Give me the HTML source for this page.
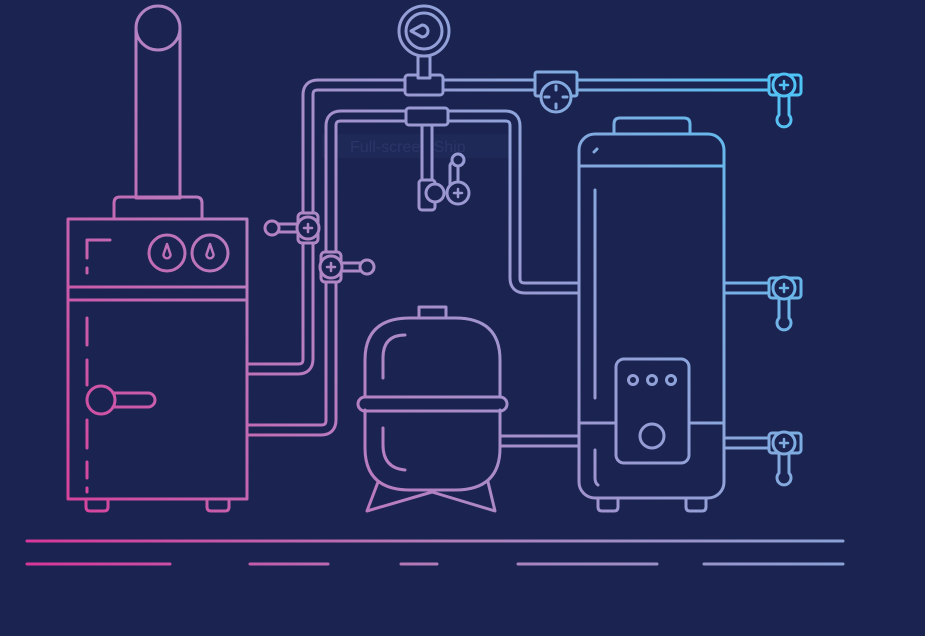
<!DOCTYPE html>
<html><head><meta charset="utf-8"><style>
html,body{margin:0;padding:0;background:#1b2350;}
svg{display:block}
</style></head><body>
<svg width="925" height="636" viewBox="0 0 925 636" xmlns="http://www.w3.org/2000/svg">
<defs>
<linearGradient id="g" gradientUnits="userSpaceOnUse" x1="60" y1="520" x2="800" y2="80">
<stop offset="0" stop-color="#d8409a"/>
<stop offset="0.35" stop-color="#b77fc0"/>
<stop offset="0.7" stop-color="#8ea4da"/>
<stop offset="1" stop-color="#4ec4f6"/>
</linearGradient>
<linearGradient id="h" gradientUnits="userSpaceOnUse" x1="27" y1="0" x2="843" y2="0">
<stop offset="0" stop-color="#d8379a"/>
<stop offset="0.5" stop-color="#b27cb8"/>
<stop offset="1" stop-color="#8aa2d6"/>
</linearGradient>
</defs>
<rect width="925" height="636" fill="#1b2350"/>
<rect x="322" y="134" width="188" height="24" fill="#1f2958"/>
<text x="350" y="152" font-family="Liberation Sans, sans-serif" font-size="16" fill="#2b3568">Full-screen Ship</text>

<g fill="none" stroke="url(#g)" stroke-width="3" stroke-linecap="round" stroke-linejoin="round">
<!-- pipes -->
<g stroke-width="13" stroke-linecap="butt">
<path d="M246,369 H298 Q308,369 308,359 V95 Q308,85 318,85 H780"/>
<path d="M246,430 H321 Q331,430 331,420 V126 Q331,116 341,116 H505 Q515,116 515,126 V278 Q515,288 525,288 H580"/>
<path d="M500,441 H580"/>
<path d="M724,288 H778 M724,443 H778"/>
<path d="M427,116 V205"/>
</g>
<g stroke="#1b2350" stroke-width="7" stroke-linecap="butt">
<path d="M246,369 H298 Q308,369 308,359 V95 Q308,85 318,85 H780"/>
<path d="M246,430 H321 Q331,430 331,420 V126 Q331,116 341,116 H505 Q515,116 515,126 V278 Q515,288 525,288 H580"/>
<path d="M500,441 H580"/>
<path d="M724,288 H778 M724,443 H778"/>
<path d="M427,116 V205"/>
</g>
<!-- fittings -->
<rect x="405" y="75" width="38" height="20" rx="3" fill="#1b2350"/>
<rect x="418" y="56" width="12" height="22" fill="#1b2350"/>
<rect x="406" y="108" width="42" height="17" rx="3" fill="#1b2350"/>
<rect x="419" y="180" width="16" height="30" rx="3" fill="#1b2350"/>
<!-- gauge top -->
<circle cx="424" cy="31" r="25" fill="#1b2350"/>
<circle cx="424" cy="31" r="18"/>
<path d="M411,31 L422,25 A6,6 0 1 1 422,37 Z"/>
<!-- thermometer fitting -->
<rect x="535" y="72" width="42" height="24" rx="2" fill="#1b2350"/>
<circle cx="556" cy="97" r="15" fill="#1b2350"/>
<path d="M556,86 v4 M556,104 v4 M545,97 h4 M563,97 h4"/>
<!-- small valve branch -->
<circle cx="435" cy="193" r="9" fill="#1b2350"/>
<path d="M454,185 V166" stroke-width="11"/>
<path d="M454,185 V166" stroke="#1b2350" stroke-width="5"/>
<circle cx="458" cy="160" r="6" fill="#1b2350"/>
<circle cx="458" cy="193" r="11" fill="#1b2350"/>
<path d="M454,193 h8 M458,189 v8" stroke-width="2.5"/>
<!-- boiler valves -->
<path d="M300,228 H278" stroke-width="11"/><path d="M300,228 H278" stroke="#1b2350" stroke-width="5"/>
<circle cx="272" cy="228" r="7" fill="#1b2350"/>
<rect x="298" y="213" width="20" height="30" rx="4" fill="#1b2350"/>
<circle cx="308" cy="228" r="11" fill="#1b2350"/>
<path d="M304,228 h8 M308,224 v8" stroke-width="2.5"/>
<path d="M340,267 H362" stroke-width="11"/><path d="M340,267 H362" stroke="#1b2350" stroke-width="5"/>
<circle cx="367" cy="267" r="7" fill="#1b2350"/>
<rect x="321" y="252" width="20" height="30" rx="4" fill="#1b2350"/>
<circle cx="331" cy="267" r="11" fill="#1b2350"/>
<path d="M327,267 h8 M331,263 v8" stroke-width="2.5"/>
<!-- taps -->
<rect x="769" y="75" width="32" height="20" rx="3" fill="#1b2350"/>
<path d="M779,94 V115 a7,7 0 1 0 10,0 V94" fill="#1b2350"/>
<circle cx="784" cy="85" r="11" fill="#1b2350"/>
<path d="M780,85 h8 M784,81 v8" stroke-width="2.5"/>

<rect x="769" y="278" width="32" height="20" rx="3" fill="#1b2350"/>
<path d="M779,297 V318 a7,7 0 1 0 10,0 V297" fill="#1b2350"/>
<circle cx="784" cy="288" r="11" fill="#1b2350"/>
<path d="M780,288 h8 M784,284 v8" stroke-width="2.5"/>

<rect x="769" y="433" width="32" height="20" rx="3" fill="#1b2350"/>
<path d="M779,452 V473 a7,7 0 1 0 10,0 V452" fill="#1b2350"/>
<circle cx="784" cy="443" r="11" fill="#1b2350"/>
<path d="M780,443 h8 M784,439 v8" stroke-width="2.5"/>

<!-- boiler -->
<rect x="136" y="28" width="44" height="170" fill="#1b2350"/>
<circle cx="158" cy="28" r="22" fill="#1b2350"/>
<path d="M114,219 V203 Q114,197 120,197 H196 Q202,197 202,203 V219"/>
<rect x="68" y="219" width="179" height="280"/>
<path d="M68,287 H247 M68,300 H247"/>
<path d="M87,258 V240 H110 M87,268 V273"/>
<path d="M87,318 V345 M87,360 V385 M87,420 V448 M87,462 V478 M87,488 V492"/>
<circle cx="167" cy="253" r="18"/><circle cx="210" cy="253" r="18"/>
<path d="M167,244 l-3,9 a3.5,3.5 0 1 0 6,0 Z M210,244 l-3,9 a3.5,3.5 0 1 0 6,0 Z" stroke-width="2.5"/>
<path d="M113,393 H148 a7,7 0 0 1 0,14 H113"/>
<circle cx="101" cy="400" r="14"/>
<path d="M86,499 V507 Q86,511 90,511 H104 Q108,511 108,507 V499 M207,499 V507 Q207,511 211,511 H225 Q229,511 229,507 V499"/>

<!-- expansion tank -->
<path d="M419,318 V307 H446 V318"/>
<path d="M365,397 V360 Q365,318 410,318 H455 Q500,318 500,360 V397 M365,410 V448 Q365,490 410,490 H455 Q500,490 500,448 V410"/>
<rect x="358" y="397" width="149" height="14" rx="7"/>
<path d="M405,335 Q383,335 383,358 V378 M383,428 V445 Q383,468 405,470"/>
<path d="M378,482 L367,511 L432,492 L495,511 L488,482"/>

<!-- water heater -->
<path d="M614,134 V124 Q614,118 620,118 H684 Q690,118 690,124 V134"/>
<rect x="579" y="134" width="145" height="364" rx="16"/>
<path d="M579,166 H724 M579,423 H616 M689,423 H724"/>
<path d="M594,152 l3,-3 M595,190 V398 M595,450 V478 Q595,483 598,485"/>
<rect x="616" y="359" width="73" height="104" rx="8"/>
<circle cx="633" cy="380" r="4.5"/><circle cx="652" cy="380" r="4.5"/><circle cx="671" cy="380" r="4.5"/>
<circle cx="652" cy="436" r="12"/>
<path d="M598,498 V507 Q598,511 602,511 H614 Q618,511 618,507 V498 M686,498 V507 Q686,511 690,511 H702 Q706,511 706,507 V498"/>
</g>

<g stroke="url(#h)" stroke-width="3" stroke-linecap="round">
<path d="M27,541 H843"/>
<path d="M27,564 H170 M250,564 H328 M401,564 H437 M518,564 H657 M704,564 H843"/>
</g>
</svg>
</body></html>
